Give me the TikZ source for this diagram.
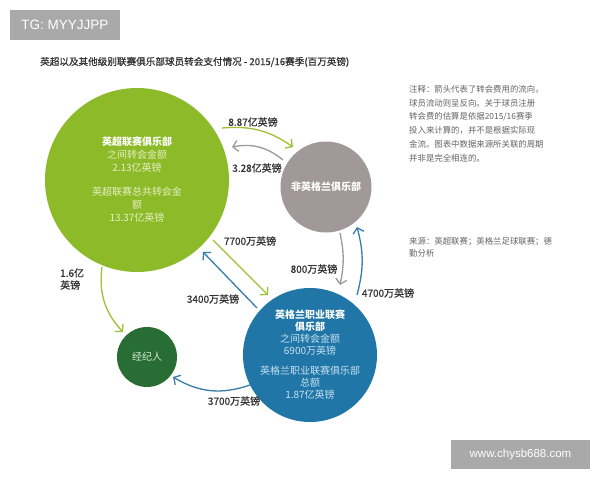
\documentclass[tikz,border=0pt]{standalone}
\usepackage{fontspec}
\setmainfont{Noto Sans CJK SC}
\newfontfamily\medfont[FakeBold=0.7]{Noto Sans CJK SC}
\newfontfamily\wmfont{Liberation Sans}
\usetikzlibrary{arrows.meta,calc}
\definecolor{eplgreen}{RGB}{140,186,40}
\definecolor{eplgreenlt}{RGB}{230,240,195}
\definecolor{foreigngray}{RGB}{161,153,153}
\definecolor{eflblue}{RGB}{33,118,168}
\definecolor{eflbluelt}{RGB}{200,225,240}
\definecolor{agentgreen}{RGB}{40,110,52}
\definecolor{agentlt}{RGB}{215,235,215}
\definecolor{arrgreen}{RGB}{160,192,50}
\definecolor{arrgray}{RGB}{158,152,152}
\definecolor{arrblue}{RGB}{55,125,168}
\definecolor{labelgray}{RGB}{50,50,50}
\definecolor{notegray}{RGB}{100,100,100}
\definecolor{wmgray}{RGB}{169,169,169}
\tikzset{
  club/.style={circle, inner sep=0pt, align=center},
  flow/.style={line width=1.3pt, -{Straight Barb[length=5pt,width=11pt,line width=1.3pt]}},
  amount/.style={font=\medfont\fontsize{10}{12}\selectfont, text=labelgray, inner sep=0pt},
  notetext/.style={font=\fontsize{8.4}{13.8}\selectfont, text=notegray, inner sep=0pt, align=left},
  wmbox/.style={fill=wmgray, inner sep=0pt, text=white},
}
\begin{document}
\begin{tikzpicture}[x=1pt,y=-1pt]
\useasboundingbox (0,0) rectangle (600,480);
\fill[white] (0,0) rectangle (600,480);

% watermarks
\node[wmbox, minimum width=110pt, minimum height=30pt, font=\wmfont\fontsize{13.5}{15}\selectfont] (wm1) at (65,25) {TG: MYYJJPP};
\node[wmbox, minimum width=139pt, minimum height=29pt, font=\wmfont\fontsize{11.5}{14}\selectfont] (wm2) at (520.5,454.5) {www.chysb688.com};

% title
\node[anchor=west, inner sep=0pt, text=labelgray, font=\medfont\fontsize{9.6}{11}\selectfont] (title) at (40,62) {英超以及其他级别联赛俱乐部球员转会支付情况 - 2015/16赛季(百万英镑)};

% clubs
\node[club, fill=eplgreen, minimum size=184pt, font=\fontsize{10}{13}\selectfont] (E) at (137,180)
  {{\bfseries\color{white}英超联赛俱乐部}\\
   {\color{eplgreenlt}之间转会金额}\\
   {\color{eplgreenlt}2.13亿英镑}\\[11pt]
   {\color{eplgreenlt}英超联赛总共转会金}\\
   {\color{eplgreenlt}额}\\
   {\color{eplgreenlt}13.37亿英镑}};
\node[club, fill=foreigngray, minimum size=91pt, font=\bfseries\fontsize{10}{12}\selectfont, text=white] (F) at (326,187) {非英格兰俱乐部};
\node[club, fill=eflblue, minimum size=124pt, font=\fontsize{10}{12}\selectfont] (P) at (310,355)
  {{\bfseries\color{white}英格兰职业联赛}\\
   {\bfseries\color{white}俱乐部}\\
   {\color{eflbluelt}之间转会金额}\\
   {\color{eflbluelt}6900万英镑}\\[8pt]
   {\color{eflbluelt}英格兰职业联赛俱乐部}\\
   {\color{eflbluelt}总额}\\
   {\color{eflbluelt}1.87亿英镑}};
\node[club, fill=agentgreen, minimum size=60pt, font=\fontsize{10}{12}\selectfont, text=agentlt] (A) at (147,357) {经纪人};

% flows
\draw[flow, arrgreen] ($(E)+(85,-52)$) to[bend left=20] ($(F)+(-33,-40)$);
\draw[flow, arrgray] ($(F)+(-43,-27)$) to[bend right=25] ($(E)+(95,-33)$);
\draw[flow, arrgreen] ($(E)+(76,60)$) -- ($(P)+(-42,-60)$);
\draw[flow, arrblue] ($(P)+(-53,-47)$) -- ($(E)+(66,72)$);
\draw[flow, arrgray] ($(F)+(14,46)$) to[bend left=12] ($(P)+(30,-70)$);
\draw[flow, arrblue] ($(P)+(47,-60)$) to[bend right=15] ($(F)+(31,40)$);
\draw[flow, arrblue] ($(P)+(-60,30)$) to[bend left=25] ($(A)+(26,20)$);
\draw[flow, arrgreen] ($(E)+(-35,87)$) to[bend right=25] ($(A)+(-24,-25)$);

% amounts
\node[amount] (l1) at (253,122) {8.87亿英镑};
\node[amount] (l2) at (257,168) {3.28亿英镑};
\node[amount] (l3) at (250,241) {7700万英镑};
\node[amount] (l4) at (213,299) {3400万英镑};
\node[amount] (l5) at (314,269) {800万英镑};
\node[amount] (l6) at (388,293) {4700万英镑};
\node[amount] (l7) at (234,401) {3700万英镑};
\node[amount, align=left, anchor=west] (l8) at (60,279) {1.6亿\\英镑};

% notes
\node[notetext, anchor=north west] (note) at (409,85)
  {注释：箭头代表了转会费用的流向，\\
   球员流动则呈反向。关于球员注册\\
   转会费的估算是依据2015/16赛季\\
   投入来计算的，并不是根据实际现\\
   金流。图表中数据来源所关联的周期\\
   并非是完全相连的。};
\node[notetext, anchor=north west, font=\fontsize{8.4}{12.3}\selectfont] (source) at (409,237)
  {来源：英超联赛；英格兰足球联赛；德\\
   勤分析};
\end{tikzpicture}
\end{document}
